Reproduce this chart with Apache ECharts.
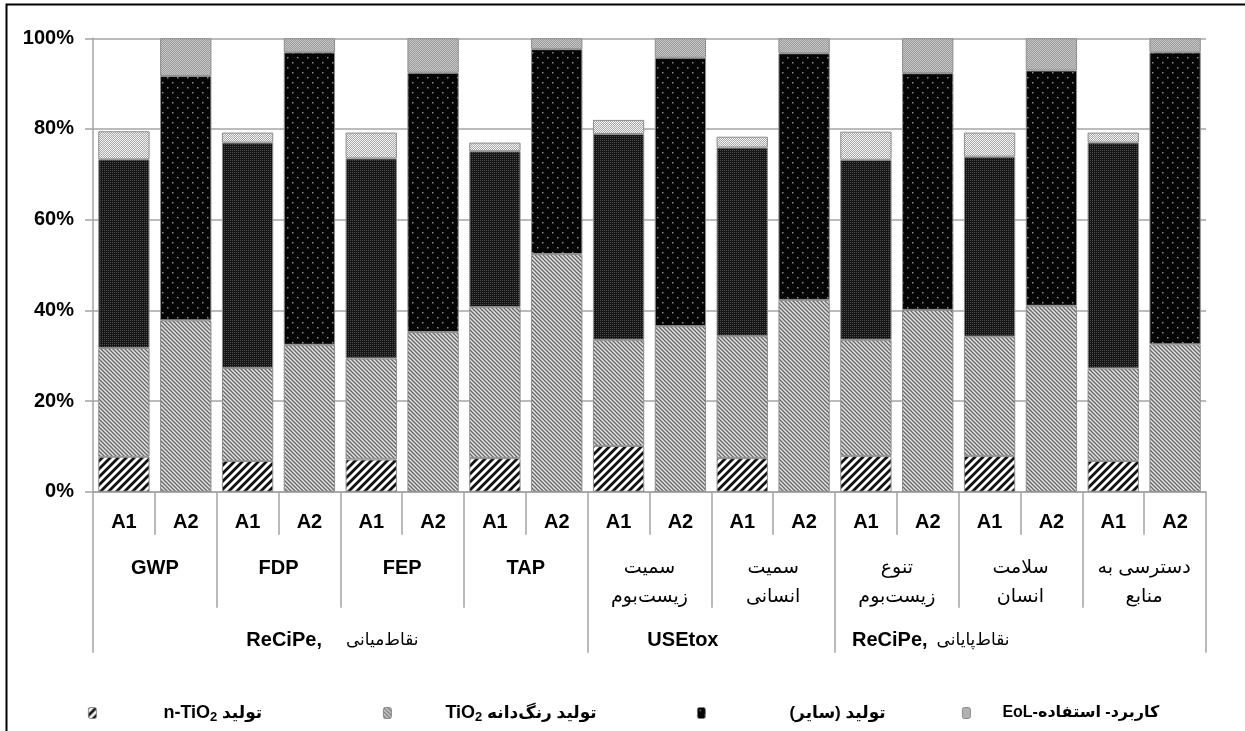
<!DOCTYPE html>
<html>
<head>
<meta charset="utf-8">
<script src="https://cdn.jsdelivr.net/npm/echarts@6/dist/echarts.min.js"></script>
<style>
  html, body { margin: 0; padding: 0; background: #fff; }
  #chart { width: 1245px; height: 731px; }
</style>
</head>
<body>
<div id="chart"></div>
<script>
// Scenario per bar (two per impact category)
const scenarios = ['A1','A2','A1','A2','A1','A2','A1','A2','A1','A2','A1','A2','A1','A2','A1','A2','A1','A2'];
// Impact categories (second label row)
const impactGroups = ['GWP', 'FDP', 'FEP', 'TAP', 'سمیت\nزیست‌بوم', 'سمیت\nانسانی', 'تنوع\nزیست‌بوم', 'سلامت\nانسان', 'دسترسی به\nمنابع'];
// Assessment methods (third label row)
const methodLatin = ['ReCiPe,', 'USEtox', 'ReCiPe,'];
const methodPersian = ['نقاط‌میانی', '', 'نقاط‌پایانی'];
const methodStart = [0, 8, 12];   // first bar index of each method

// Stage shares, % (A1, A2 for each impact category)
const nanoTiO2   = [7.7, 0, 6.8, 0, 7.1, 0, 7.4, 0, 10.1, 0, 7.4, 0, 7.9, 0, 7.9, 0, 6.8, 0];
const pigmentTiO2 = [24.0, 37.8, 20.5, 32.4, 22.3, 35.2, 33.3, 52.4, 23.4, 36.5, 26.9, 42.3, 25.6, 40.1, 26.3, 41.0, 20.4, 32.5];
const otherProd  = [41.6, 53.9, 49.7, 64.5, 44.1, 57.2, 34.4, 45.2, 45.4, 59.2, 41.6, 54.4, 39.7, 52.2, 39.7, 51.9, 49.8, 64.4];
const useEoL     = [6.2, 8.3, 2.2, 3.1, 5.7, 7.6, 1.9, 2.4, 3.1, 4.3, 2.4, 3.3, 6.2, 7.7, 5.3, 7.1, 2.2, 3.1];

const seriesNames = ['n-TiO₂ تولید', 'TiO₂ تولید رنگ‌دانه', 'تولید (سایر)', 'کاربرد- استفاده-EoL'];
// Legend label pieces: Latin part, subscript, Persian part
const legendLatin = ['n-TiO', 'TiO', '', ''];
const legendSub = ['2', '2', '', ''];
const legendPersian = [' تولید', ' تولید رنگ‌دانه', 'تولید (سایر)', 'کاربرد- استفاده-EoL'];
const yTickLabels = '{value}%';

const FONT = '"Liberation Sans", Arial, "DejaVu Sans", sans-serif';

// Small repeating hatch tiles
function tile(w, h, draw) {
  const c = document.createElement('canvas');
  c.width = w; c.height = h;
  draw(c.getContext('2d'));
  return { image: c, repeat: 'repeat' };
}
const fillNano = tile(8, 8, g => {
  g.fillStyle = '#fff'; g.fillRect(0, 0, 8, 8);
  g.strokeStyle = '#111'; g.lineWidth = 2.8; g.beginPath();
  g.moveTo(-2, 10); g.lineTo(10, -2);
  g.moveTo(-4, 4); g.lineTo(4, -4);
  g.moveTo(4, 12); g.lineTo(12, 4);
  g.stroke();
});
const fillPigment = tile(4, 4, g => {
  g.fillStyle = '#e2e2e2'; g.fillRect(0, 0, 4, 4);
  g.strokeStyle = '#666'; g.lineWidth = 1.3; g.beginPath();
  g.moveTo(-1, -1); g.lineTo(5, 5);
  g.moveTo(2, -2); g.lineTo(6, 2);
  g.moveTo(-2, 2); g.lineTo(2, 6);
  g.stroke();
});
const fillOtherA1 = tile(2, 2, g => {
  g.fillStyle = '#161616'; g.fillRect(0, 0, 2, 2);
  g.fillStyle = '#4c4c4c'; g.fillRect(0, 0, 1, 1);
});
const fillOtherA2 = tile(10, 10, g => {
  g.fillStyle = '#040404'; g.fillRect(0, 0, 10, 10);
  g.fillStyle = '#8a8a8a';
  g.fillRect(2, 2, 1.5, 1.5); g.fillRect(7, 7, 1.5, 1.5);
});
const fillEolA1 = tile(2, 2, g => {
  g.fillStyle = '#f4f4f4'; g.fillRect(0, 0, 2, 2);
  g.fillStyle = '#a9a9a9'; g.fillRect(1, 0, 1, 1); g.fillRect(0, 1, 1, 1);
});
const fillEolA2 = tile(2, 2, g => {
  g.fillStyle = '#c6c6c6'; g.fillRect(0, 0, 2, 2);
  g.fillStyle = '#9c9c9c'; g.fillRect(1, 0, 1, 1); g.fillRect(0, 1, 1, 1);
});

const stageFills = [
  [fillNano, fillNano],
  [fillPigment, fillPigment],
  [fillOtherA1, fillOtherA2],
  [fillEolA1, fillEolA2]
];
const stageValues = [nanoTiO2, pigmentTiO2, otherProd, useEoL];

const axisGray = '#a4a4a4';

const series = stageValues.map((vals, s) => ({
  name: seriesNames[s],
  type: 'bar',
  stack: 'share',
  xAxisIndex: 0,
  barCategoryGap: '17%',
  itemStyle: { color: stageFills[s][1], borderColor: '#8c8c8c', borderWidth: 1 },
  data: vals.map((v, i) => ({
    value: v === 0 ? '-' : v,
    itemStyle: { color: stageFills[s][i % 2] }
  }))
}));

// Legend entries: icon position and the space before each label
const legendSpots = [
  { left: 88, gap: 62, pSize: 17 },
  { left: 383, gap: 49, pSize: 17 },
  { left: 697, gap: 79, pSize: 17 },
  { left: 962, gap: 27, pSize: 16 }
];
const legendIcons = [fillNano, fillPigment, fillOtherA2, fillEolA2];
const legends = legendSpots.map((spot, k) => ({
  show: true,
  left: spot.left,
  top: 702,
  padding: 0,
  itemWidth: 8,
  itemHeight: 11,
  selectedMode: false,
  data: [{ name: seriesNames[k], itemStyle: { color: legendIcons[k], borderColor: '#777', borderWidth: 0.8 } }],
  formatter: () => {
    if (legendLatin[k]) {
      return '{l|' + legendLatin[k] + '}{s|' + legendSub[k] + '}{p|' + legendPersian[k] + '}';
    }
    return '{p|\u202B' + legendPersian[k] + '\u202C}';
  },
  textStyle: {
    fontFamily: FONT, fontSize: 17, fontWeight: 'bold', color: '#000',
    padding: [0, 0, 0, spot.gap], lineHeight: 22,
    rich: {
      l: { fontFamily: FONT, fontSize: 18, fontWeight: 'bold', color: '#000', lineHeight: 22 },
      s: { fontFamily: FONT, fontSize: 13, fontWeight: 'bold', color: '#000', lineHeight: 13, verticalAlign: 'bottom' },
      p: { fontFamily: FONT, fontSize: spot.pSize, fontWeight: 'bold', color: '#000', lineHeight: 22 }
    }
  }
}));

// Method labels on the third row
const methodRich = {
  m0: { fontFamily: FONT, fontSize: 20, fontWeight: 'bold', color: '#000', padding: [0, 0, 0, 46], lineHeight: 22 },
  p0: { fontFamily: FONT, fontSize: 17, color: '#000', padding: [0, 0, 0, 24], lineHeight: 22 },
  m1: { fontFamily: FONT, fontSize: 20, fontWeight: 'bold', color: '#000', padding: [0, 0, 0, 5], lineHeight: 22 },
  m2: { fontFamily: FONT, fontSize: 20, fontWeight: 'bold', color: '#000', padding: [0, 0, 0, 6], lineHeight: 22 },
  p2: { fontFamily: FONT, fontSize: 17, color: '#000', padding: [0, 0, 0, 9], lineHeight: 22 }
};
const methodAnchor = [3, 9, 13];
function methodLabel(value, index) {
  const k = methodAnchor.indexOf(index);
  if (k < 0) return '';
  let s = '{m' + k + '|' + methodLatin[k] + '}';
  if (methodPersian[k]) s += '{p' + k + '|' + methodPersian[k] + '}';
  return s;
}

const chart = echarts.init(document.getElementById('chart'), null, { renderer: 'canvas' });
chart.setOption({
  animation: false,
  backgroundColor: '#fff',
  grid: { left: 93, right: 39, top: 38.3, bottom: 239.3, outerBoundsMode: 'none', containLabel: false },
  legend: legends,
  xAxis: [
    {
      type: 'category',
      gridIndex: 0,
      position: 'bottom',
      offset: 0,
      data: scenarios,
      axisLine: { show: true, lineStyle: { color: axisGray, width: 1.5 } },
      axisTick: { show: true, interval: 0, length: 43, lineStyle: { color: axisGray, width: 1.5 } },
      axisLabel: { show: true, interval: 0, margin: 21, fontFamily: FONT, fontSize: 20, fontWeight: 'bold', color: '#000' },
      splitLine: { show: false }
    },
    {
      type: 'category',
      gridIndex: 0,
      position: 'bottom',
      offset: 0,
      data: impactGroups,
      axisLine: { show: false },
      axisTick: { show: true, interval: 0, length: 116, lineStyle: { color: axisGray, width: 1.5 } },
      axisLabel: {
        show: true, interval: 0, margin: 62, fontFamily: FONT, fontSize: 19, color: '#000', lineHeight: 29,
        formatter: v => /[A-Z]/.test(v) ? '{b|' + v + '}' : v,
        rich: { b: { fontFamily: FONT, fontSize: 20, fontWeight: 'bold', color: '#000', lineHeight: 29 } }
      },
      splitLine: { show: false }
    },
    {
      type: 'category',
      gridIndex: 0,
      position: 'bottom',
      offset: 0,
      data: scenarios,
      axisLine: { show: false },
      axisTick: { show: true, interval: i => methodStart.indexOf(i) >= 0, length: 161, lineStyle: { color: axisGray, width: 1.5 } },
      axisLabel: {
        show: true,
        interval: i => methodAnchor.indexOf(i) >= 0,
        margin: 138, formatter: methodLabel, rich: methodRich
      },
      splitLine: { show: false }
    }
  ],
  yAxis: {
    type: 'value',
    min: 0, max: 100, interval: 20,
    axisLine: { show: true, lineStyle: { color: axisGray, width: 1.5 } },
    axisTick: { show: true, length: 8, lineStyle: { color: axisGray, width: 1.5 } },
    axisLabel: { formatter: yTickLabels, margin: 19, fontFamily: FONT, fontSize: 20, fontWeight: 'bold', color: '#000' },
    splitLine: { lineStyle: { color: axisGray, width: 1.5 } }
  },
  series: series,
  graphic: [
    {
      type: 'polyline',
      shape: { points: [[6.5, 731], [6.5, 4.5], [1245, 4.5]] },
      style: { stroke: '#000', lineWidth: 2, fill: null },
      silent: true
    }
  ]
});
</script>
</body>
</html>
